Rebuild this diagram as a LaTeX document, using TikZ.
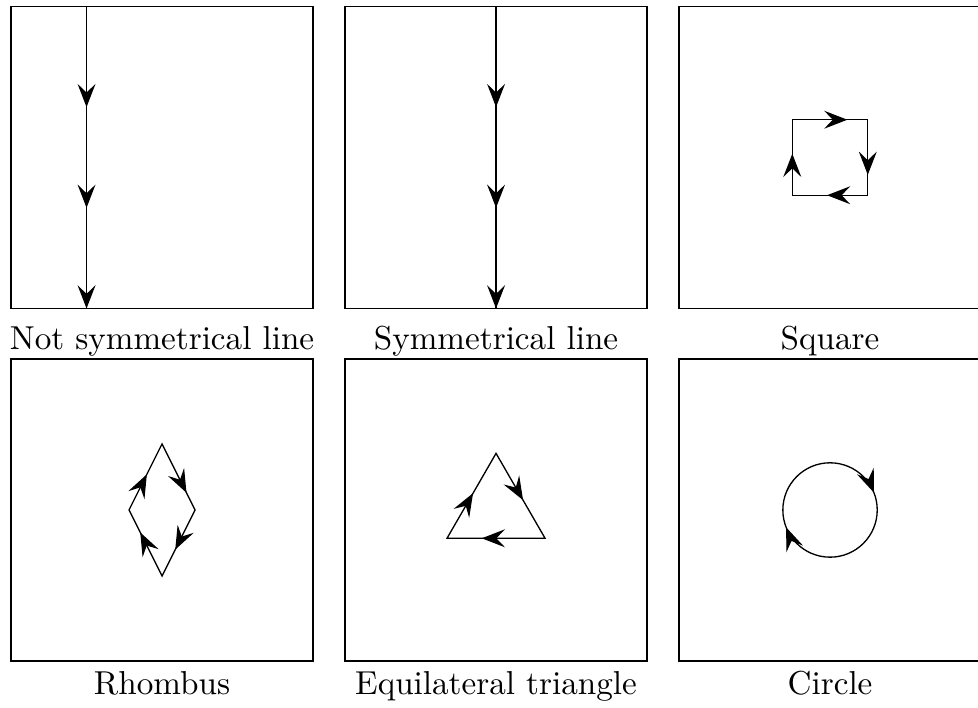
\documentclass[tikz,border=0pt]{standalone}
\usetikzlibrary{arrows.meta,decorations.markings}

\tikzset{
  panel/.style={draw},
  flow/.style={postaction={decorate,decoration={markings,
      mark=at position #1 with {\arrow{Stealth[length=7pt,width=5.4pt,inset=2.6pt]}}}}},
  lbl/.style={anchor=base,inner sep=0pt}
}

\begin{document}
\begin{tikzpicture}

    \useasboundingbox (0,0) rectangle (10.363,7.502);

    % Not symmetrical line
    \begin{scope}[shift={(1.717,5.833)}]
        \draw[panel] (-1.6,-1.6) rectangle (1.6,1.6);
        \draw[flow=0.3333,flow=0.6667,flow=1] (-0.8,1.6) -- (-0.8,-1.6);
        \node[lbl] (notsym) at (0,-2.03) {Not symmetrical line};
    \end{scope}

    % Symmetrical line
    \begin{scope}[shift={(5.256,5.833)}]
        \draw[panel] (-1.6,-1.6) rectangle (1.6,1.6);
        \draw[flow=0.3333,flow=0.6667,flow=1] (0,1.6) -- (0,-1.6);
        \node[lbl] (sym) at (0,-2.03) {Symmetrical line};
    \end{scope}

    % Square
    \begin{scope}[shift={(8.795,5.833)}]
        \draw[panel] (-1.6,-1.6) rectangle (1.6,1.6);
        \draw[flow=0.1375,flow=0.4325,flow=0.6825,flow=0.885]
            (-0.4,-0.4) -- (-0.4,0.4) -- (0.4,0.4) -- (0.4,-0.4) -- cycle;
        \node[lbl] (square) at (0,-2.03) {Square};
    \end{scope}

    % Rhombus
    \begin{scope}[shift={(1.717,2.098)}]
        \draw[panel] (-1.6,-1.6) rectangle (1.6,1.6);
        \draw[flow=0.135,flow=0.435,flow=0.65,flow=0.915]
            (-0.35,0) -- (0,0.7) -- (0.35,0) -- (0,-0.7) -- cycle;
        \node[lbl] (rhombus) at (0,-1.95) {Rhombus};
    \end{scope}

    % Equilateral triangle
    \begin{scope}[shift={(5.256,2.098)}]
        \draw[panel] (-1.6,-1.6) rectangle (1.6,1.6);
        \draw[flow=0.177,flow=0.517,flow=0.882]
            (210:0.6) -- (90:0.6) -- (-30:0.6) -- cycle;
        \node[lbl] (triangle) at (0,-1.95) {Equilateral triangle};
    \end{scope}

    % Circle
    \begin{scope}[shift={(8.795,2.098)}]
        \draw[panel] (-1.6,-1.6) rectangle (1.6,1.6);
        \draw[flow=0.19,flow=0.69]
            (90:0.5) arc[start angle=90,end angle=-270,radius=0.5];
        \node[lbl] (circ) at (0,-1.95) {Circle};
    \end{scope}

\end{tikzpicture}
\end{document}
